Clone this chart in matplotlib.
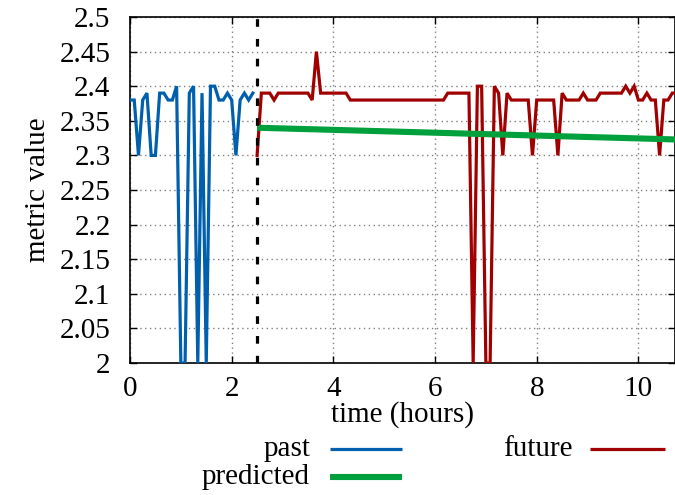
import numpy as np
import matplotlib
matplotlib.use("Agg")
import matplotlib.pyplot as plt
from matplotlib.lines import Line2D

# ---- data (hours, metric value), sampled every 5 minutes ----
step_h = 1.0 / 12.0
past_start = 0.0
past_values = [2.38, 2.38, 2.30, 2.38, 2.39, 2.30, 2.30, 2.39, 2.39, 2.38,
               2.38, 2.40, 2.00, 2.00, 2.39, 2.40, 2.00, 2.39, 2.00, 2.40,
               2.40, 2.38, 2.38, 2.39, 2.38, 2.30, 2.38, 2.39, 2.38, 2.39]
future_start = 2.5
future_values = [2.30, 2.39, 2.39, 2.39, 2.38, 2.39, 2.39, 2.39, 2.39, 2.39,
                 2.39, 2.39, 2.39, 2.38, 2.45, 2.39, 2.39, 2.39, 2.39, 2.39,
                 2.39, 2.39, 2.38, 2.38, 2.38, 2.38, 2.38, 2.38, 2.38, 2.38,
                 2.38, 2.38, 2.38, 2.38, 2.38, 2.38, 2.38, 2.38, 2.38, 2.38,
                 2.38, 2.38, 2.38, 2.38, 2.38, 2.39, 2.39, 2.39, 2.39, 2.39,
                 2.39, 2.00, 2.40, 2.40, 2.00, 2.00, 2.40, 2.39, 2.30, 2.39,
                 2.38, 2.38, 2.38, 2.38, 2.38, 2.30, 2.38, 2.38, 2.38, 2.38,
                 2.38, 2.30, 2.39, 2.38, 2.38, 2.38, 2.38, 2.39, 2.38, 2.38,
                 2.38, 2.39, 2.39, 2.39, 2.39, 2.39, 2.39, 2.40, 2.39, 2.40,
                 2.38, 2.38, 2.39, 2.38, 2.38, 2.30, 2.38, 2.38, 2.39, 2.39]
predicted_t = [2.5, 10.75]
predicted_values = [2.340, 2.323]
present_t = 2.5

x_ticks = [0, 2, 4, 6, 8, 10]
y_ticks = [2.0, 2.05, 2.1, 2.15, 2.2, 2.25, 2.3, 2.35, 2.4, 2.45, 2.5]
y_tick_labels = ["2", "2.05", "2.1", "2.15", "2.2", "2.25", "2.3", "2.35", "2.4", "2.45", "2.5"]
x_range = (0, 10.72)
y_range = (2.0, 2.5)

past_t = past_start + np.arange(len(past_values)) * step_h
future_t = future_start + np.arange(len(future_values)) * step_h

# ---- styling ----
plt.rcParams['font.family'] = ['Liberation Serif', 'DejaVu Serif']
FS = 21
c_past = "#0060ad"
c_future = "#a00000"
c_pred = "#00a03c"

W, H = 675, 495
fig = plt.figure(figsize=(W / 100, H / 100), dpi=100)
ax_left, ax_right, ax_top, ax_bottom = 130, 675, 17, 363
ax = fig.add_axes([ax_left / W, 1 - ax_bottom / H, (ax_right - ax_left) / W, (ax_bottom - ax_top) / H])

ax.plot(past_t, past_values, color=c_past, lw=2.3, solid_joinstyle='miter', zorder=3)
ax.plot(future_t, future_values, color=c_future, lw=2.3, solid_joinstyle='miter', zorder=3)
ax.plot(predicted_t, predicted_values, color=c_pred, lw=4.4, solid_capstyle='butt', zorder=4)
ax.axvline(present_t, color='black', lw=2.3, linestyle=(0, (2.4, 3.8)), dash_capstyle='butt', zorder=5)

ax.set_xlim(*x_range)
ax.set_ylim(*y_range)
ax.set_xticks(x_ticks)
ax.set_xticklabels([str(v) for v in x_ticks])
ax.set_yticks(y_ticks)
ax.set_yticklabels(y_tick_labels)
ax.tick_params(direction='in', length=5, width=1, labelsize=FS, top=True, right=True, pad=14)
ax.tick_params(axis='x', pad=9)
ax.grid(True, color='#808080', linestyle=(0, (1, 2.5)), lw=1)
for s in ax.spines.values():
    s.set_linewidth(1.2)
    s.set_color('black')

ax.set_xlabel("time (hours)", fontsize=FS, labelpad=0)
ax.set_ylabel("metric value", fontsize=FS, labelpad=6)

# ---- legend (gnuplot style: label right-aligned, sample after) ----
def leg_entry(text_right_px, y_px, x0_px, x1_px, color, lw, label):
    fig.text(text_right_px / W, 1 - y_px / H, label, ha='right', va='center', fontsize=FS)
    fig.add_artist(Line2D([x0_px / W, x1_px / W], [1 - y_px / H, 1 - y_px / H],
                          transform=fig.transFigure, color=color, lw=lw, solid_capstyle='butt'))

leg_entry(310, 449, 330, 402, c_past, 2.3, "past")
leg_entry(310, 477, 330, 402, c_pred, 4.4, "predicted")
leg_entry(573, 449, 590, 665, c_future, 2.3, "future")

fig.savefig("out.png", dpi=100)
